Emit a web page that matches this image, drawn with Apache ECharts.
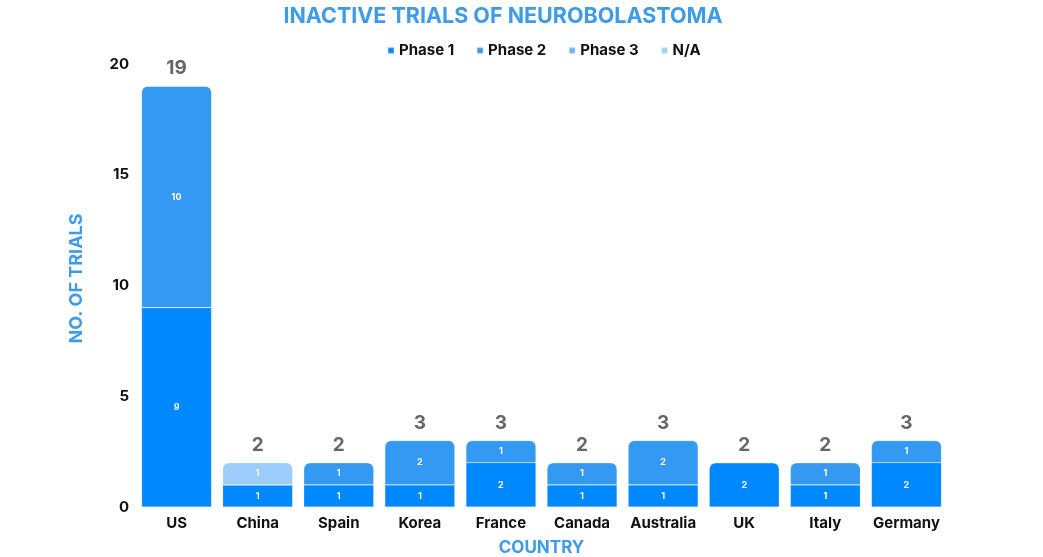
<!DOCTYPE html>
<html>
<head>
<meta charset="utf-8">
<script src="https://cdn.jsdelivr.net/npm/echarts@6/dist/echarts.min.js"></script>
<style>html,body{margin:0;padding:0;background:#fff}#c{width:1043px;height:557px}</style>
</head>
<body>
<div id="c"></div>
<script>
const categories = ['US','China','Spain','Korea','France','Canada','Australia','UK','Italy','Germany'];
const phase1 = [9,1,1,1,2,1,1,2,1,2];
const phase2 = [10,0,1,2,1,1,2,0,1,1];
const phase3 = [0,0,0,0,0,0,0,0,0,0];
const phaseNA = [0,1,0,0,0,0,0,0,0,0];
const yTicks = [0,5,10,15,20];

const seriesDefs = [
  {name:'Phase 1', data:phase1, color:'#0088ff'},
  {name:'Phase 2', data:phase2, color:'#3399f2'},
  {name:'Phase 3', data:phase3, color:'#66b3f7'},
  {name:'N/A', data:phaseNA, color:'#9dcdfc'}
];
const totals = categories.map((_,i)=>seriesDefs.reduce((s,d)=>s+d.data[i],0));
const topIdx = categories.map((_,i)=>{let t=-1;seriesDefs.forEach((d,k)=>{if(d.data[i]>0)t=k;});return t;});

const series = seriesDefs.map((d,k)=>({
  name:d.name, type:'bar', stack:'all', barWidth:70,
  itemStyle:{color:d.color, borderColor:'rgba(255,255,255,0.25)', borderWidth:0.6},
  label:{show:true, position:'inside', color:'#fff', fontSize:9, fontWeight:'bold', fontFamily:'Inter',
    formatter:p=>p.value>0?p.value:''},
  data:d.data.map((v,i)=>({value:v, itemStyle:{borderRadius: topIdx[i]===k?[6,6,0,0]:0}}))
}));
series.push({
  name:'Total', type:'bar', stack:'all', barWidth:70,
  itemStyle:{color:'transparent'},
  label:{show:true, position:'top', distance:8, color:'#666', fontSize:19, fontWeight:'bold', fontFamily:'Inter',
    formatter:p=>totals[p.dataIndex]},
  data:categories.map(()=>0)
});

const chart = echarts.init(document.getElementById('c'));
chart.setOption({
  animation:false,
  title:{text:'INACTIVE TRIALS OF NEUROBOLASTOMA', left:498, textAlign:'center', top:1,
    textStyle:{color:'#3d9be9', fontSize:21.5, fontWeight:'bold', fontFamily:'Inter'}},
  legend:{data:['Phase 1','Phase 2','Phase 3','N/A'], left:382, top:38, itemWidth:6, itemHeight:6, itemGap:22,
    icon:'rect', textStyle:{color:'#111', fontSize:15, fontWeight:'bold', fontFamily:'Inter'}},
  grid:{left:136, right:96, top:64, bottom:50, outerBoundsMode:'none', containLabel:false},
  xAxis:{type:'category', data:categories, axisLine:{show:false}, axisTick:{show:false},
    axisLabel:{color:'#111', fontSize:15, fontWeight:'bold', fontFamily:'Inter', margin:9, interval:0},
    name:'COUNTRY', nameLocation:'middle', nameGap:32,
    nameTextStyle:{color:'#3d9be9', fontSize:17, fontWeight:'bold', fontFamily:'Inter'}},
  yAxis:{type:'value', min:yTicks[0], max:yTicks[yTicks.length-1], interval:5,
    axisLine:{show:false}, axisTick:{show:false}, splitLine:{show:false},
    axisLabel:{color:'#111', fontSize:15, fontWeight:'bold', fontFamily:'Inter', margin:7},
    name:'NO. OF TRIALS', nameLocation:'middle', nameGap:50,
    nameTextStyle:{color:'#3d9be9', fontSize:18, fontWeight:'bold', fontFamily:'Inter', padding:[0,0,0,14]}},
  series:series
});
</script>
</body>
</html>
